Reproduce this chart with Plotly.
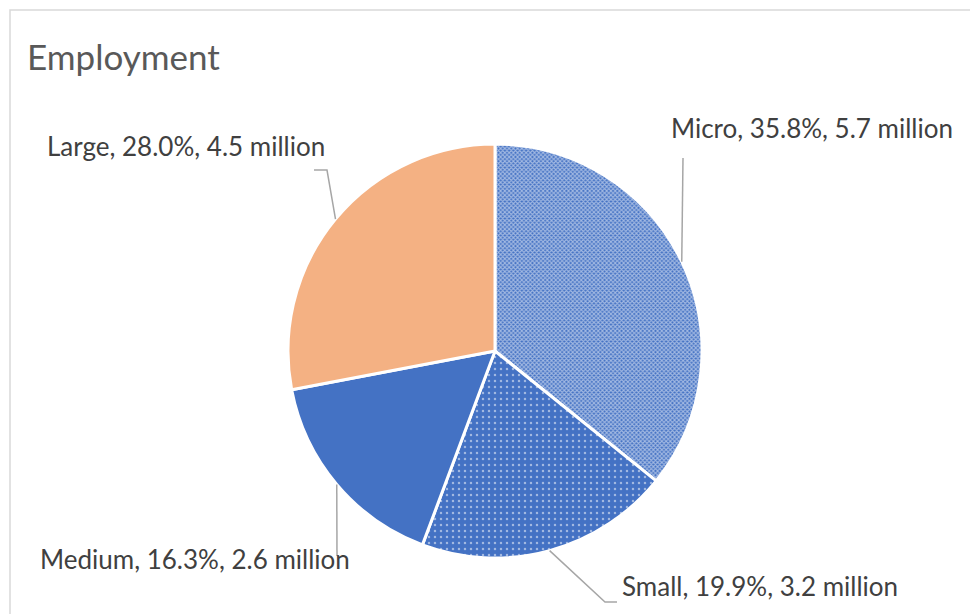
import math
import plotly.graph_objects as go

W, H = 970, 614

# ---- data ----
categories = ["Micro", "Small", "Medium", "Large"]
shares = [35.8, 19.9, 16.3, 28.0]          # percent of employment
jobs_millions = [5.7, 3.2, 2.6, 4.5]       # million
title_text = "Employment"

BLUE = "#4472C4"
ORANGE = "#F4B183"
colors = [BLUE, BLUE, BLUE, ORANGE]
pattern_shapes = ["x", ".", "", ""]
pattern_sizes = [3, 6, 8, 8]
pattern_solidity = [0.6, 0.13, 0.3, 0.3]

# pie geometry (pixels)
cx, cy, R = 495, 351, 207

def px(x):
    return x / W

def py(y):
    return 1 - y / H

fig = go.Figure(go.Pie(
    labels=categories,
    values=shares,
    sort=False,
    direction="clockwise",
    rotation=0,
    textinfo="none",
    hoverinfo="label+percent",
    marker=dict(
        colors=colors,
        line=dict(color="white", width=3),
        pattern=dict(
            shape=pattern_shapes,
            size=pattern_sizes,
            solidity=pattern_solidity,
            fgcolor="white",
            fillmode="overlay",
        ),
    ),
    domain=dict(x=[px(cx - R), px(cx + R)], y=[py(cy + R), py(cy - R)]),
    showlegend=False,
))

# label placement (text left edge, vertical centre) and leader elbows, in pixels
label_pos = {
    "Micro": (669, 128),
    "Small": (620, 586),
    "Medium": (38, 559),
    "Large": (45, 146),
}
elbows = {
    "Micro": [(683, 158)],
    "Small": [(605, 602), (617, 602)],
    "Medium": [(337, 556)],
    "Large": [(327, 170), (314, 170)],
}

total = sum(shares)
annotations = []
shapes = []
cum = 0.0
for cat, s, j in zip(categories, shares, jobs_millions):
    mid = (cum + s / 2) / total * 2 * math.pi
    cum += s
    ex = cx + R * math.sin(mid)
    ey = cy - R * math.cos(mid)
    pts = [(ex, ey)] + elbows[cat]
    path = "M " + " L ".join(f"{px(x):.5f},{py(y):.5f}" for x, y in pts)
    shapes.append(dict(type="path", xref="paper", yref="paper", path=path,
                       line=dict(color="#A6A6A6", width=1.5)))
    lx, ly = label_pos[cat]
    annotations.append(dict(
        x=px(lx), y=py(ly), xref="paper", yref="paper",
        xanchor="left", yanchor="middle", showarrow=False,
        text=f"{cat}, {s:.1f}%, {j:.1f} million",
        font=dict(family="Lato", size=26, color="#404040"),
    ))

# chart frame
shapes.append(dict(type="rect", xref="paper", yref="paper",
                   x0=px(10), x1=px(W + 5), y0=py(H + 5), y1=py(10),
                   line=dict(color="#D9D9D9", width=1.5), layer="below"))

annotations.append(dict(
    x=px(25), y=py(56), xref="paper", yref="paper",
    xanchor="left", yanchor="middle", showarrow=False,
    text=title_text,
    font=dict(family="Lato", size=35, color="#595959"),
))

fig.update_layout(
    width=W, height=H,
    margin=dict(l=0, r=0, t=0, b=0),
    paper_bgcolor="white",
    plot_bgcolor="white",
    shapes=shapes,
    annotations=annotations,
)

fig.write_html("out.html")
